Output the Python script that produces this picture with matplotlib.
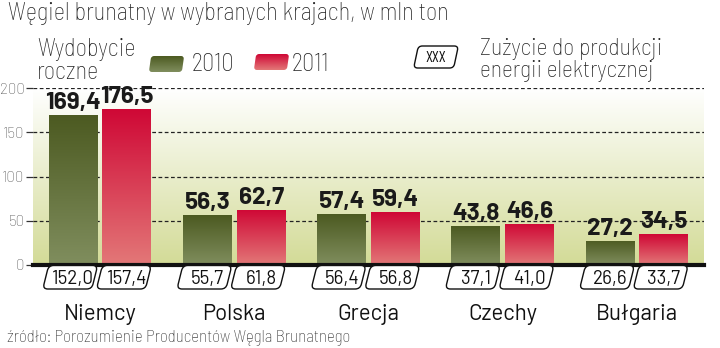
import numpy as np
import matplotlib
matplotlib.use("Agg")
import matplotlib.pyplot as plt
from matplotlib.patches import FancyBboxPatch
from matplotlib.transforms import Affine2D, ScaledTranslation
from matplotlib.colors import LinearSegmentedColormap

categories = ["Niemcy", "Polska", "Grecja", "Czechy", "Bułgaria"]
prod_2010 = [169.4, 56.3, 57.4, 43.8, 27.2]
prod_2011 = [176.5, 62.7, 59.4, 46.6, 34.5]
energy_2010 = [152.0, 55.7, 56.4, 37.1, 26.6]
energy_2011 = [157.4, 61.8, 56.8, 41.0, 33.7]
yticks = [0, 50, 100, 150, 200]

SC = ['Barlow Semi Condensed', 'DejaVu Sans']
COND = ['Barlow Condensed', 'Barlow Semi Condensed', 'DejaVu Sans']
REG = ['Barlow', 'DejaVu Sans']

W, H = 720, 348

def fy(px):
    return 1 - px / H

def fmt(v):
    return f"{v:.1f}".replace(".", ",")

fig = plt.figure(figsize=(7.2, 3.48), dpi=100)
ax = fig.add_axes([33/W, 1-265/H, 671/W, 177/H])

grad = np.linspace(0, 1, 256).reshape(-1, 1)
bg = LinearSegmentedColormap.from_list("bg", ["#ffffff", "#d3db97"])
ax.imshow(grad, cmap=bg, aspect='auto', extent=(-0.5, 4.5, 0, 200), zorder=0)

green_cm = LinearSegmentedColormap.from_list("g", ["#4c5a21", "#808e5e"])
red_cm = LinearSegmentedColormap.from_list("r", ["#cf0735", "#e37878"])

x = np.arange(len(categories))
w = 0.365
off = 0.2
b1 = ax.bar(x - off, prod_2010, w, color="#5f6d35", zorder=2)
b2 = ax.bar(x + off, prod_2011, w, color="#d83048", zorder=2)
for bars, cm in ((b1, green_cm), (b2, red_cm)):
    for r in bars:
        x0, y0, bw, bh = r.get_x(), r.get_y(), r.get_width(), r.get_height()
        im = ax.imshow(grad, cmap=cm, aspect='auto',
                       extent=(x0, x0 + bw, y0, y0 + bh), zorder=3)
        im.set_clip_path(r)
ax.set_xlim(-0.5, 4.5)
ax.set_ylim(0, 200)

# value labels
for bars, vals in ((b1, prod_2010), (b2, prod_2011)):
    for r, v in zip(bars, vals):
        ax.annotate(fmt(v), (r.get_x() + r.get_width()/2, v), xytext=(0, 6),
                    textcoords='offset pixels', ha='center', va='baseline',
                    fontsize=17.5, fontweight='bold', family=REG, color='#1a1a1a',
                    zorder=5)

# grid
for t in yticks[1:]:
    ax.axhline(t, color='#222222', lw=0.9, ls=(0, (3, 2)), zorder=1)
ax.axhline(0, color='#111111', lw=3, zorder=4, clip_on=False)

ax.set_xticks([])
ax.set_yticks(yticks)
ax.set_yticklabels([str(t) for t in yticks], family=REG, fontweight='light',
                   fontsize=11, color='#555555')
ax.tick_params(axis='y', length=5, width=0.9, color='#333333', pad=1)
for s in ax.spines.values():
    s.set_visible(False)

# energy boxes
for bars, vals in ((b1, energy_2010), (b2, energy_2011)):
    for r, v in zip(bars, vals):
        xc = r.get_x() + r.get_width()/2
        tr = Affine2D().skew_deg(14, 0) + ScaledTranslation(xc, 0, ax.transData)
        p = FancyBboxPatch((-24.5, -24), 49, 23.5,
                           boxstyle="round,pad=0,rounding_size=5",
                           facecolor='white', edgecolor='#111111', lw=1.0,
                           transform=tr, clip_on=False, zorder=6)
        ax.add_artist(p)
        ax.annotate(fmt(v), (xc, 0), xytext=(0, -18.5), textcoords='offset pixels',
                    ha='center', va='baseline', fontsize=13.5, family=REG,
                    color='#111111', zorder=7, annotation_clip=False)

# category labels
for xi, c in zip(x, categories):
    ax.annotate(c, (xi, 0), xytext=(0, -55), textcoords='offset pixels',
                ha='center', va='baseline', fontsize=16, family=REG,
                color='#111111', annotation_clip=False)

# title, source
fig.text(8/W, fy(20), "Węgiel brunatny w wybranych krajach, w mln ton",
         ha='left', va='baseline', fontsize=17.5, family=SC, fontweight='light',
         color='#222222')
fig.text(7/W, fy(342), "źródło: Porozumienie Producentów Węgla Brunatnego",
         ha='left', va='baseline', fontsize=12.2, family=SC, fontweight='light',
         color='#333333')

# legend
lax = fig.add_axes([0, 0, 1, 1], facecolor='none')
lax.axis('off')
for (x0, y0, cm) in ((150, 56, green_cm), (255, 54, red_cm)):
    trs = Affine2D().skew_deg(-8, 0) + Affine2D().translate(x0 + 16.5, y0 + 8) + lax.transData
    p = FancyBboxPatch((-16.5, -8), 33, 16, boxstyle="round,pad=0,rounding_size=3",
                       facecolor='none', edgecolor='none', transform=trs)
    lax.add_artist(p)
    im = lax.imshow(grad, cmap=cm, aspect='auto', extent=(x0 - 2, x0 + 35, y0 + 16, y0),
                    zorder=3)
    im.set_clip_path(p)
lax.set_xlim(0, W)
lax.set_ylim(H, 0)

ltxt = dict(ha='left', va='baseline', fontsize=17.5, family=SC, fontweight='light',
            color='#222222')
fig.text(37/W, fy(56), "Wydobycie", **ltxt)
fig.text(37/W, fy(79), "roczne", **ltxt)
fig.text(192/W, fy(71), "2010", **ltxt)
fig.text(292/W, fy(71), "2011", **ltxt)
ltxt['fontsize'] = 17
fig.text(480/W, fy(55), "Zużycie do produkcji", **ltxt)
fig.text(480/W, fy(77), "energii elektrycznej", **ltxt)

trb = Affine2D().skew_deg(-12, 0) + Affine2D().translate(436, 57) + lax.transData
pb = FancyBboxPatch((-20, -11), 40, 22, boxstyle="round,pad=0,rounding_size=4",
                    facecolor='white', edgecolor='#111111', lw=1.0, transform=trb)
lax.add_artist(pb)
lax.text(436, 57.5, "XXX", ha='center', va='center', fontsize=11.5, family=COND,
         color='#111111')

fig.savefig("out.png", dpi=100)
